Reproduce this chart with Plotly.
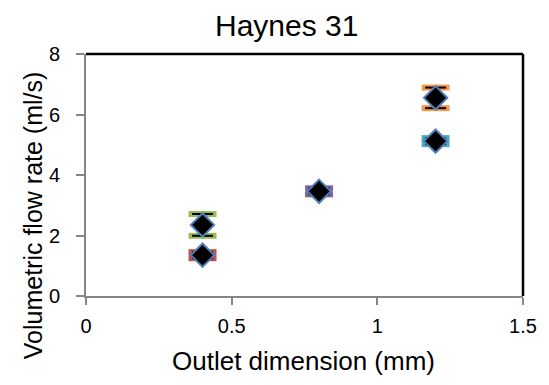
import plotly.graph_objects as go

# Data
outlet_mm = [0.4, 0.4, 0.8, 1.2, 1.2]
flow_rate = [2.35, 1.35, 3.46, 6.55, 5.12]
flow_err = [0.36, 0.1, 0.1, 0.34, 0.1]
series_colors = ["#9BBB59", "#C0504D", "#8064A2", "#F79646", "#4BACC6"]
x_ticks = [0, 0.5, 1, 1.5]
x_ticktext = ["0", "0.5", "1", "1.5"]
y_ticks = [0, 2, 4, 6, 8]

FONT = "Liberation Sans, Arial, sans-serif"

fig = go.Figure()

for i in range(len(outlet_mm)):
    x = outlet_mm[i]
    y = flow_rate[i]
    e = flow_err[i]
    fig.add_trace(go.Scatter(
        x=[x, x], y=[y - e, y + e], mode="markers",
        marker=dict(symbol="line-ew", size=20,
                    line=dict(color=series_colors[i], width=6)),
        hoverinfo="skip", showlegend=False))
    fig.add_trace(go.Scatter(
        x=[x, x], y=[y - e, y + e], mode="markers",
        marker=dict(symbol="line-ew", size=15,
                    line=dict(color="black", width=2)),
        hoverinfo="skip", showlegend=False))

fig.add_trace(go.Scatter(
    x=outlet_mm, y=flow_rate, mode="markers",
    marker=dict(symbol="diamond", size=18, color="black",
                line=dict(color="#4F81BD", width=2)),
    showlegend=False))

# page has an 8px body margin; compensate
W, H = 541, 377
L, R, T, B = 78, 24, 46, 89
PW, PH = 439, 242

def px(xp):
    return (xp - 86) / PW

def py(yp):
    return (296 - yp) / PH

fig.update_layout(
    width=W, height=H,
    paper_bgcolor="white", plot_bgcolor="white",
    margin=dict(l=L, r=R, t=T, b=B),
    font=dict(family=FONT, color="black", size=20),
    xaxis=dict(range=[0, 1.5], tickvals=x_ticks, ticktext=x_ticktext,
               showgrid=False, zeroline=False,
               showline=True, linecolor="#868686", linewidth=2,
               ticks="outside", ticklen=7, tickcolor="#868686", tickwidth=1.5,
               ticklabelstandoff=4,
               tickfont=dict(size=20)),
    yaxis=dict(range=[0, 8], tickvals=y_ticks,
               showgrid=False, zeroline=False,
               showline=True, linecolor="#868686", linewidth=2,
               ticks="outside", ticklen=8, tickcolor="#868686", tickwidth=1.5,
               ticklabelstandoff=12,
               tickfont=dict(size=20)),
    shapes=[
        dict(type="line", xref="paper", yref="paper", x0=0, x1=1, y0=1, y1=1,
             line=dict(color="black", width=2.5)),
        dict(type="line", xref="paper", yref="paper", x0=1, x1=1, y0=0, y1=1,
             line=dict(color="black", width=2.5)),
    ],
    annotations=[
        dict(text="Haynes 31", xref="paper", yref="paper",
             x=px(287), y=py(26), xanchor="center", yanchor="middle",
             showarrow=False, font=dict(size=30)),
        dict(text="Outlet dimension (mm)", xref="paper", yref="paper",
             x=px(304), y=py(361), xanchor="center", yanchor="middle",
             showarrow=False, font=dict(size=26)),
        dict(text="Volumetric flow rate (ml/s)", xref="paper", yref="paper",
             x=px(33), y=py(215), xanchor="center", yanchor="middle",
             textangle=-90, showarrow=False, font=dict(size=25)),
    ],
)

fig.write_html("out.html")
